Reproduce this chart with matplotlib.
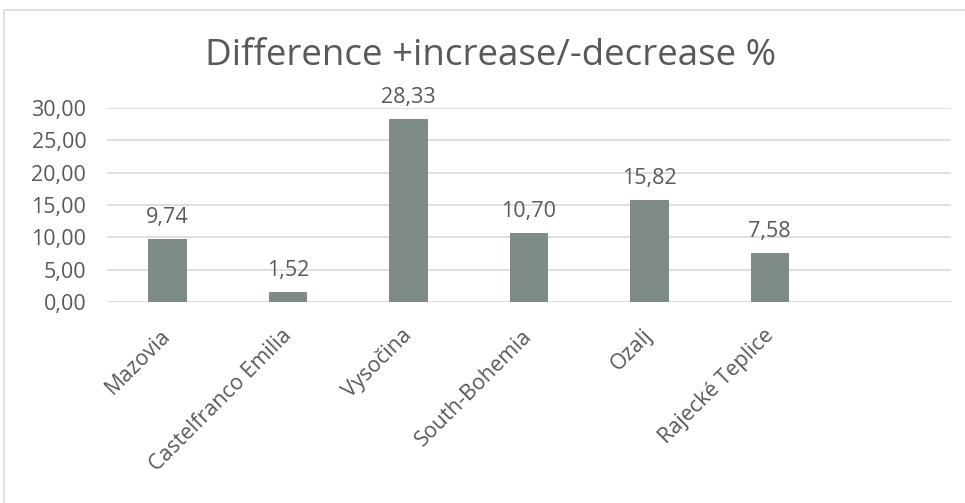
import matplotlib.pyplot as plt
from matplotlib.patches import Rectangle
from matplotlib.transforms import ScaledTranslation

# data
regions = ['Mazovia', 'Castelfranco Emilia', 'Vysočina', 'South-Bohemia',
           'Ozalj', 'Rajecké Teplice']
diff_pct = [9.74, 1.52, 28.33, 10.70, 15.82, 7.58]
yticks = [0, 5, 10, 15, 20, 25, 30]

txt = '#595959'
bar_col = '#7f8b89'
plt.rcParams['font.family'] = ['Open Sans', 'DejaVu Sans']

fig = plt.figure(figsize=(9.65, 5.03), dpi=100)
ax = fig.add_axes([0.111, 0.4, 0.874, 0.385])

x = list(range(len(regions)))
bars = ax.bar(x, diff_pct, width=0.32, color=bar_col, zorder=3)
for b, v in zip(bars, diff_pct):
    ax.annotate(('%.2f' % v).replace('.', ','), xy=(b.get_x() + b.get_width() / 2, v),
                xytext=(0, 8), textcoords='offset points', ha='center', va='bottom',
                fontsize=15.5, color=txt)

ax.set_xlim(-0.5, 6.5)
ax.set_ylim(0, 30)
ax.set_yticks(yticks)
ax.set_yticklabels([('%.2f' % t).replace('.', ',') for t in yticks], fontsize=15.5, color=txt)
ax.set_xticks(x)
ax.set_xticklabels(regions, rotation=45, ha='right', rotation_mode='anchor',
                   fontsize=15.5, color=txt)
ax.tick_params(axis='x', length=0, pad=17)
ax.tick_params(axis='y', length=0, pad=15)
# nudge the slanted labels a little to the left
shift = ScaledTranslation(-5 / 72, 0, fig.dpi_scale_trans)
for lab in ax.get_xticklabels():
    lab.set_transform(lab.get_transform() + shift)
ax.grid(axis='y', color='#d9d9d9', linewidth=1.2, zorder=0)
for s in ax.spines.values():
    s.set_visible(False)

fig.text(0.508, 1 - 65 / 503, 'Difference +increase/-decrease %', ha='center', va='baseline',
         fontsize=26.5, color=txt)

# light border round the chart area
fig.patches.append(Rectangle((0.004, -0.1), 1.1, 1.08, transform=fig.transFigure,
                             fill=False, edgecolor='#d9d9d9', linewidth=1.2))

fig.savefig('out.png', dpi=100)
